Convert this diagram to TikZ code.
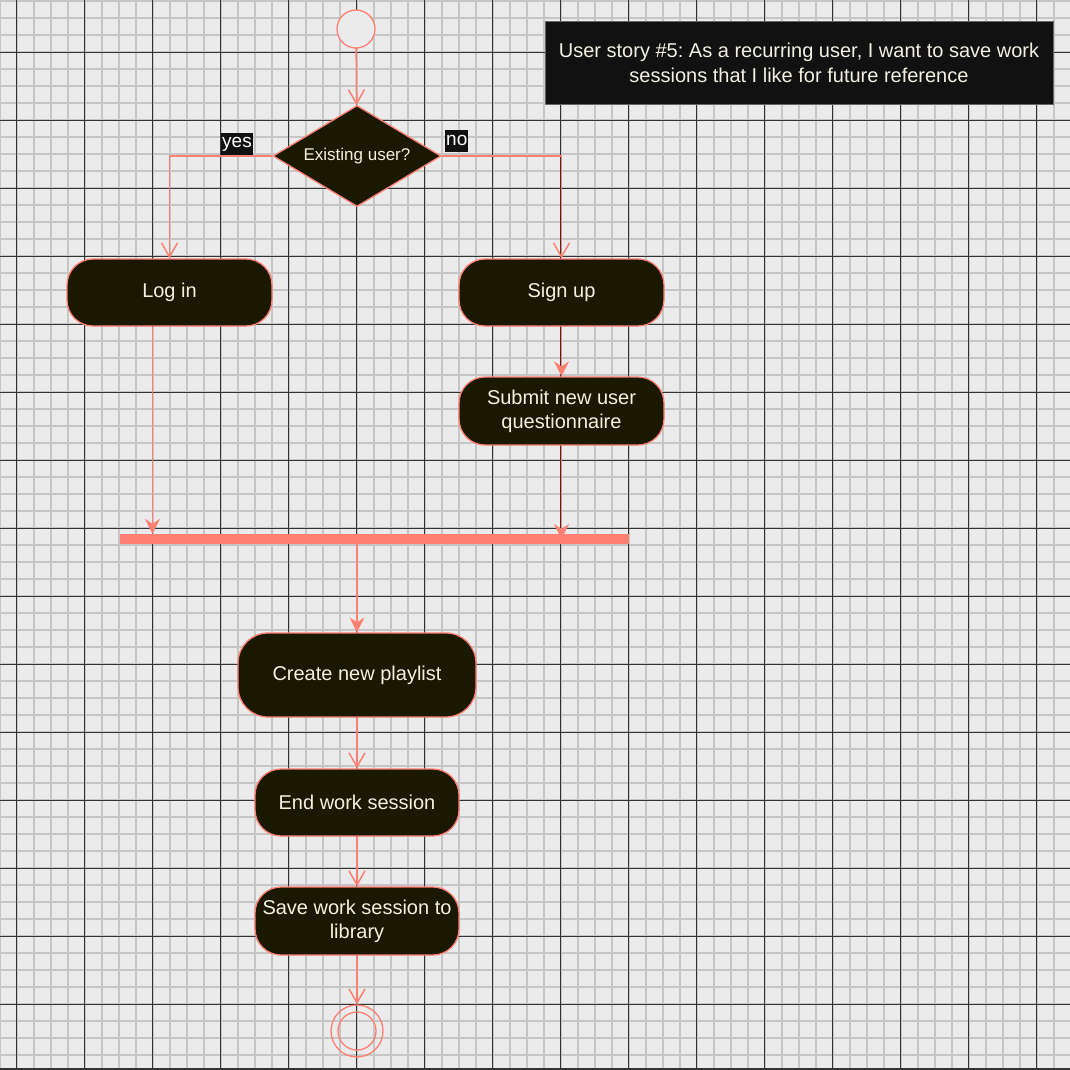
\documentclass[tikz,border=0pt]{standalone}
\usepackage{fontspec}
\setmainfont{Liberation Sans}
\usetikzlibrary{positioning,shapes.geometric,arrows.meta,calc}

\definecolor{paper}{HTML}{EBEBEB}
\definecolor{minorline}{HTML}{C6C6C6}
\definecolor{majorline}{HTML}{333333}
\definecolor{salmon}{HTML}{FF7F72}
\definecolor{nodefill}{HTML}{1B1800}
\definecolor{nodetext}{HTML}{F2F0E2}
\definecolor{notefill}{HTML}{111111}
\frenchspacing

\begin{document}
\begin{tikzpicture}[
        x=1pt, y=-1pt,
        action/.style={rectangle, rounded corners=26pt, draw=salmon, line width=1.3pt, fill=nodefill,
            text=nodetext, font=\fontsize{20}{24}\selectfont, align=center, minimum width=205pt, minimum height=67pt, inner sep=0pt},
        decision/.style={diamond, draw=salmon, line width=1.3pt, fill=nodefill, text=nodetext,
            font=\fontsize{17}{20}\selectfont, aspect=1.66, inner sep=0pt, minimum width=168pt, minimum height=101pt},
        guard/.style={fill=notefill, text=white, font=\fontsize{19}{21}\selectfont, inner sep=1pt, minimum height=22pt},
        openflow/.style={draw=salmon, line width=1.5pt, -{Straight Barb[length=14pt,width=16pt,line width=1.5pt]}},
        flow/.style={draw=salmon, line width=1.5pt, -{Stealth[length=15pt,width=15pt,inset=5pt]}}
    ]
        % Paper and grid
        \useasboundingbox (0,0) rectangle (1070,1070);
        \clip (0,0) rectangle (1070,1070);
        \fill[paper] (0,0) rectangle (1070,1070);
        \foreach \i in {0,...,63} {
            \draw[minorline, line width=1.7pt] ({-0.3+17*\i},0) -- ++(0,1070);
            \draw[minorline, line width=1.7pt] (0,{1.3+17*\i}) -- ++(1070,0);
        }
        \foreach \i in {0,...,15} {
            \draw[majorline, line width=0.8pt] ({16.7+68*\i},0) -- ++(0,1070);
            \draw[majorline, line width=0.8pt] (0,{-15.7+68*\i}) -- ++(1070,0);
        }
        \draw[majorline, line width=2pt] (0,1069) -- (1070,1069);

        % Note
        \node (story) at (799,62.5) [rectangle, draw=black!60, line width=0.8pt, fill=notefill, text=nodetext,
            font=\fontsize{20}{25}\selectfont, align=center, minimum width=508pt, minimum height=83pt]
            {User story \#5: As a recurring user, I want to save work\\sessions that I like for future reference};

        % Start and decision
        \node (start) at (356,29) [circle, draw=salmon, line width=1.3pt, fill=paper, minimum size=38pt, inner sep=0pt] {};
        \node (existing) at (357,156) [decision] {Existing user?};
        \node (yes) at (253,155.5) [guard, anchor=south east] {yes};
        \node (no) at (445,152) [guard, anchor=south west] {no};

        % Actions
        \node (login) at (169.5,292.5) [action] {Log in};
        \node (signup) at (561.5,292.5) [action] {Sign up};
        \node (questionnaire) at (561.5,411) [action, minimum height=68pt] {Submit new user\\questionnaire};
        \node (join) at (374.5,539) [rectangle, fill=salmon, minimum width=509pt, minimum height=10pt, inner sep=0pt] {};
        \node (playlist) at (357,675) [action, rounded corners=30pt, minimum width=238pt, minimum height=84pt] {Create new playlist};
        \node (endsession) at (357,802.5) [action, minimum width=204pt] {End work session};
        \node (savesession) at (357,921) [action, minimum width=204pt, minimum height=68pt] {Save work session to\\library};

        % End
        \node (finish) at (357,1031) [circle, draw=salmon, line width=1.3pt, minimum size=52pt, inner sep=0pt] {};
        \node (finishdot) at (357,1031) [circle, draw=salmon, line width=1.3pt, minimum size=38pt, inner sep=0pt] {};

        % Arrows
        \draw[openflow] (start) -- (existing);
        \draw[openflow] (existing.west) -| (login.north);
        \draw[openflow] (existing.east) -| (signup.north);
        \draw[flow] (signup) -- (questionnaire);
        \draw[flow] ([xshift=-17pt]login.south) -- ([xshift=-17pt]login.south |- join.north);
        \draw[flow] (questionnaire.south) -- (questionnaire.south |- join.center);
        \draw[flow] (playlist.north |- join.south) -- (playlist.north);
        \draw[openflow] (playlist) -- (endsession);
        \draw[openflow] (endsession) -- (savesession);
        \draw[openflow] (savesession) -- (finish);
    \end{tikzpicture}
\end{document}
